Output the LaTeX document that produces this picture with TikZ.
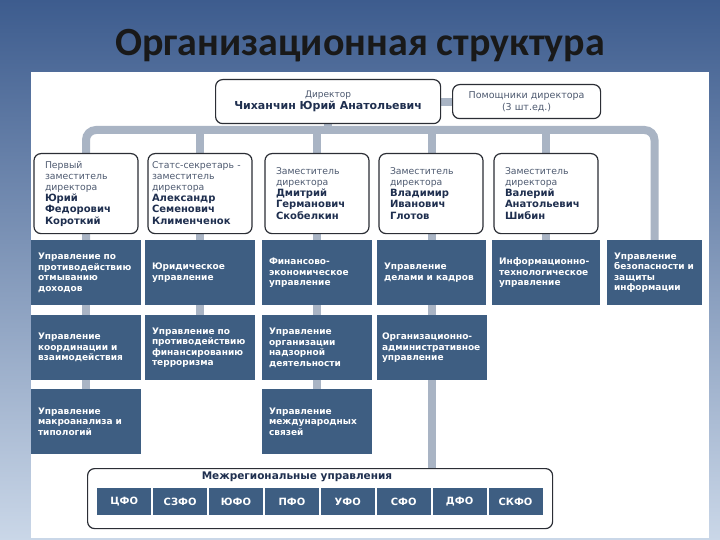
\documentclass[tikz,border=0pt]{standalone}
\usepackage{fontspec}
\setmainfont{DejaVu Sans}
\newfontfamily\titlefont{Carlito}
\pgfdeclarelayer{bg}
\pgfdeclarelayer{conn}
\pgfsetlayers{bg,conn,main}
\definecolor{deptblue}{HTML}{3E5E82}
\definecolor{busgray}{HTML}{A9B4C4}
\definecolor{namecol}{HTML}{1F2F4F}
\definecolor{roletext}{HTML}{4E5A70}
\definecolor{bgtop}{HTML}{3D5C8E}
\definecolor{bgbot}{HTML}{CAD7E8}
\definecolor{boxline}{HTML}{2B2E35}
\newcommand\rolefmt{\fontsize{9.3}{11}\selectfont\mdseries\color{roletext}}
\newcommand\namefmt{\fontsize{10}{11}\selectfont\bfseries\color{namecol}}
\newcommand\deptfmt{\fontsize{9}{10.5}\selectfont\bfseries}
\begin{document}
\begin{tikzpicture}[x=1pt,y=-1pt,
  wbox/.style={draw=boxline,line width=1.2pt,rounded corners=7pt,fill=white},
  deputy/.style={wbox,minimum height=80,text width=82,inner xsep=11,align=left,anchor=north},
  dept/.style={fill=deptblue,text=white,font=\deptfmt,align=left,anchor=north,minimum height=65,inner xsep=7,text width=96},
  busline/.style={draw=busgray,line width=8pt},
  fo/.style={fill=deptblue,text=white,font=\fontsize{10}{11}\selectfont\bfseries,minimum width=54,minimum height=27,anchor=north west,inner sep=0pt},
]
\useasboundingbox (0,0) rectangle (720,540);
\begin{pgfonlayer}{bg}
\shade[top color=bgtop,bottom color=bgbot] (0,0) rectangle (720,540);
\fill[white] (31,72) rectangle (709,538);
\end{pgfonlayer}

\node[font=\titlefont\bfseries\fontsize{40}{44}\selectfont,text=black!90] (title) at (360,46) {Организационная структура};

\node[wbox,minimum width=225,minimum height=44,anchor=north west,align=center] (dir) at (215,79)
  {\fontsize{9}{10}\selectfont\color{roletext}Директор\\\fontsize{11}{11}\selectfont\bfseries\color{namecol}Чиханчин Юрий Анатольевич};
\node[wbox,minimum width=148,minimum height=34,anchor=north west,align=center] (asst) at (452,84)
  {\fontsize{9.5}{10.5}\selectfont\color{roletext}Помощники директора\\\fontsize{9.5}{10.5}\selectfont\color{roletext}(3 шт.ед.)};

\node[deputy] (d1) at (86,153) {\rolefmt Первый\\\rolefmt заместитель\\\rolefmt директора\\\namefmt Юрий\\\namefmt Федорович\\\namefmt Короткий};
\node[deputy,text width=96,inner xsep=4] (d2) at (200,153) {\rolefmt Статс-секретарь -\\\rolefmt заместитель\\\rolefmt директора\\\namefmt Александр\\\namefmt Семенович\\\namefmt Клименченок};
\node[deputy] (d3) at (317,153) {\rolefmt Заместитель\\\rolefmt директора\\\namefmt Дмитрий\\\namefmt Германович\\\namefmt Скобелкин};
\node[deputy] (d4) at (431,153) {\rolefmt Заместитель\\\rolefmt директора\\\namefmt Владимир\\\namefmt Иванович\\\namefmt Глотов};
\node[deputy] (d5) at (546,153) {\rolefmt Заместитель\\\rolefmt директора\\\namefmt Валерий\\\namefmt Анатольевич\\\namefmt Шибин};

\node[dept] (r1c1) at (86,240) {Управление по\\противодействию\\отмыванию\\доходов};
\node[dept] (r1c2) at (200,240) {Юридическое\\управление};
\node[dept] (r1c3) at (317,240) {Финансово-\\экономическое\\управление};
\node[dept,text width=95] (r1c4) at (431.5,240) {Управление\\делами и кадров};
\node[dept,text width=94] (r1c5) at (546,240) {Информационно-\\технологическое\\управление};
\node[dept,text width=81] (r1c6) at (654.5,240) {Управление\\безопасности и\\защиты\\информации};

\node[dept] (r2c1) at (86,315) {Управление\\координации и\\взаимодействия};
\node[dept] (r2c2) at (200,315) {Управление по\\противодействию\\финансированию\\терроризма};
\node[dept] (r2c3) at (317,315) {Управление\\организации\\надзорной\\деятельности};
\node[dept,inner xsep=5,text width=100] (r2c4) at (432,315) {Организационно-\\административное\\управление};

\node[dept] (r3c1) at (86,389) {Управление\\макроанализа и\\типологий};
\node[dept] (r3c3) at (317,389) {Управление\\международных\\связей};

\node[wbox,minimum width=465,minimum height=60,anchor=north west] (mr) at (87,468) {};
\node[font=\fontsize{10.5}{11}\selectfont\bfseries,text=namecol] (mrt) at (297,477) {Межрегиональные управления};
\foreach \n [count=\i from 0] in {ЦФО,СЗФО,ЮФО,ПФО,УФО,СФО,ДФО,СКФО}
  \node[fo] (f\i) at (97+\i*55.9,488) {\n};

\begin{pgfonlayer}{conn}
\coordinate (busy) at (0,130);
\draw[busline,rounded corners=10pt] (r1c1.north) -- (r1c1.north |- busy) -- (r1c6.north |- busy) -- (r1c6.north);
\foreach \c in {2,3,4,5} \draw[busline] (r1c\c.north |- busy) -- (r1c\c.north);
\draw[busline] (dir.south) -- (dir.south |- busy);
\draw[busline] (dir.east) -- (asst.west);
\draw[busline] (r1c1.south) -- (r2c1.north);
\draw[busline] (r2c1.south) -- (r3c1.north);
\draw[busline] (r1c2.south) -- (r2c2.north);
\draw[busline] (r1c3.south) -- (r2c3.north);
\draw[busline] (r2c3.south) -- (r3c3.north);
\draw[busline] (r1c4.south) -- (r1c4.south |- r2c4.north);
\draw[busline] (r2c4.south) -- (r2c4.south |- mr.north);
\end{pgfonlayer}
\end{tikzpicture}
\end{document}
